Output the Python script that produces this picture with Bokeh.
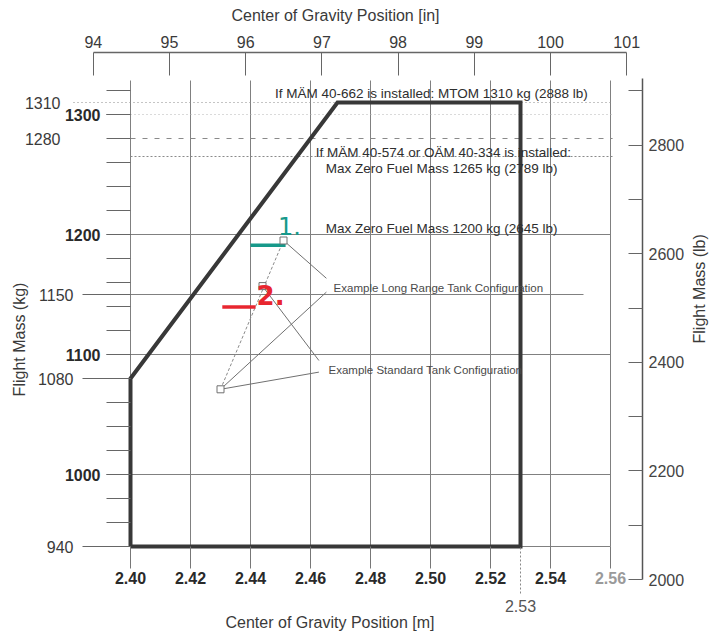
import math
from bokeh.plotting import figure
from bokeh.models import LinearAxis, Range1d, FixedTicker, PrintfTickFormatter
from bokeh.core.properties import value
from bokeh.embed import file_html
from bokeh.resources import INLINE

# ---------------- values ----------------
cg_m_ticks = [2.40, 2.42, 2.44, 2.46, 2.48, 2.50, 2.52, 2.54]
cg_m_ticks_gray = [2.56]
cg_aft_tick = [2.53]
cg_in_ticks = [94, 95, 96, 97, 98, 99, 100, 101]

kg_bold_ticks = [1000, 1100, 1200, 1300]
kg_plain_ticks = [940, 1080, 1150]
kg_plain_ticks_far = [1280, 1310]
kg_minor_ticks = [940, 960, 980, 1000, 1020, 1040, 1060, 1080, 1100, 1120,
                  1140, 1160, 1180, 1200, 1220, 1240, 1260, 1280, 1300, 1320]
lb_ticks = [2000, 2200, 2400, 2600, 2800]
lb_minor_ticks = [2100, 2300, 2500, 2700, 2900]

envelope_cg = [2.40, 2.40, 2.469, 2.53, 2.53, 2.40]
envelope_kg = [940, 1080, 1310, 1310, 940, 940]

grid_cg = [2.40, 2.42, 2.44, 2.46, 2.48, 2.50, 2.52, 2.54, 2.56]
grid_kg = [940, 1000, 1100, 1150, 1200]
grid_kg_end = [2.56, 2.56, 2.56, 2.551, 2.56]

limit_kg = [1310, 1300, 1280, 1265]
limit_cg_start = [2.381, 2.392, 2.40, 2.40]

example_cg = [2.451, 2.444, 2.430]
example_kg = [1195, 1157, 1071]

leader_cg0 = [2.451, 2.430, 2.444, 2.430]
leader_kg0 = [1195, 1071, 1157, 1071]
leader_cg1 = [2.4653, 2.4653, 2.4628, 2.4628]
leader_kg1 = [1163.5, 1152, 1095, 1085.3]

teal_cg = [2.440, 2.4517]
teal_kg = [1191, 1191]
red_cg = [2.4306, 2.4417]
red_kg = [1139.5, 1139.5]

# ---------------- geometry (pixels of the page) ----------------
W, H, OFF = 710, 633, 0


def m_at(px):
    return 2.40 + (px - 130) / 3000.0


def kg_at(py):
    return 940 + (546 - py) / 1.2


def lb_at(py):
    return 2000 + (579 - py) / 0.543


FONT = "Liberation Sans"

p = figure(width=W, height=H, output_backend="svg", toolbar_location=None,
           title=None, x_axis_location=None, y_axis_location=None,
           x_range=Range1d(m_at(OFF), m_at(OFF + W)),
           y_range=Range1d(kg_at(OFF + H), kg_at(OFF)),
           min_border_left=0, min_border_right=0, min_border_top=0,
           min_border_bottom=0)
p.extra_x_ranges = {"inch": Range1d(m_at(OFF) / 0.0254, m_at(OFF + W) / 0.0254)}
p.extra_y_ranges = {"lb": Range1d(lb_at(OFF + H), lb_at(OFF))}
p.outline_line_color = None
p.grid.visible = False
p.background_fill_color = "white"
p.border_fill_color = "white"


def axis(**kw):
    base = dict(axis_line_color=None, major_tick_in=0, major_tick_out=0,
                minor_tick_in=0, minor_tick_out=0, major_label_standoff=0,
                major_tick_line_color="#666", minor_tick_line_color="#666",
                major_label_text_font=FONT, major_label_text_font_size="16px",
                major_label_text_color="#3a3a3a",
                axis_label_text_font=FONT, axis_label_text_font_size="16px",
                axis_label_text_color="#3a3a3a", axis_label_text_font_style="normal")
    base.update(kw)
    return LinearAxis(**base)


# ---- left (kg) ----
p.add_layout(axis(fixed_location=2.40,
                  ticker=FixedTicker(ticks=kg_bold_ticks, minor_ticks=kg_minor_ticks),
                  major_tick_out=24, minor_tick_out=24, major_label_standoff=6,
                  major_label_text_font_style="bold", major_label_text_color="#2a2a2a"),
             "left")
p.add_layout(axis(fixed_location=2.40, ticker=FixedTicker(ticks=kg_plain_ticks),
                  major_tick_out=48, major_label_standoff=9), "left")
p.add_layout(axis(fixed_location=2.40, ticker=FixedTicker(ticks=kg_plain_ticks_far),
                  major_tick_line_color=None, major_label_standoff=70), "left")
p.add_layout(axis(fixed_location=2.40, ticker=FixedTicker(ticks=[]), bounds=(940, 1285),
                  axis_label="Flight Mass (kg)", axis_label_standoff=103), "left")

# ---- top (inch) ----
y_top = kg_at(52)
p.add_layout(axis(fixed_location=y_top, x_range_name="inch",
                  ticker=FixedTicker(ticks=cg_in_ticks), bounds=(94, 101),
                  axis_line_color="#666", axis_line_width=1.3,
                  major_tick_in=23, major_label_standoff=5), "above")
p.add_layout(axis(fixed_location=y_top, x_range_name="inch",
                  ticker=FixedTicker(ticks=[]), bounds=(94, 100.36),
                  axis_label="Center of Gravity Position [in]", axis_label_standoff=29),
             "above")

# ---- right (lb) ----
x_right = m_at(642)
p.add_layout(axis(fixed_location=x_right, y_range_name="lb",
                  ticker=FixedTicker(ticks=lb_ticks, minor_ticks=lb_minor_ticks),
                  bounds=(2000, lb_at(78)), axis_line_color="#555", axis_line_width=1.5,
                  major_tick_in=14, minor_tick_in=14, major_label_standoff=6,
                  major_label_text_color="#444"), "right")

if "axis_label_orientation" in LinearAxis.properties():
    p.add_layout(axis(fixed_location=x_right, y_range_name="lb",
                      ticker=FixedTicker(ticks=[]), bounds=(2000, 2869),
                      axis_label="Flight Mass (lb)", axis_label_standoff=57,
                      axis_label_orientation=math.pi / 2), "right")
else:
    p.text([m_at(699)], [kg_at(343)], text=["Flight Mass (lb)"], angle=math.pi / 2,
           text_font=value(FONT), text_font_size=value("16px"), text_color="#3a3a3a",
           text_align="center", text_baseline="middle")

# ---- bottom (m) ----
fmt = PrintfTickFormatter(format="%.2f")
p.add_layout(axis(fixed_location=940, ticker=FixedTicker(ticks=cg_m_ticks), formatter=fmt,
                  bounds=(2.40, 2.54), major_tick_out=22, major_tick_line_color="#777",
                  major_label_standoff=3, major_label_text_font_style="bold",
                  major_label_text_color="#2a2a2a"), "below")
p.add_layout(axis(fixed_location=940, ticker=FixedTicker(ticks=cg_m_ticks_gray),
                  formatter=PrintfTickFormatter(format="%.2f"),
                  major_tick_out=22, major_tick_line_color="#777",
                  major_label_standoff=3, major_label_text_font_style="bold",
                  major_label_text_color="#9a9a9a"), "below")
p.add_layout(axis(fixed_location=940, ticker=FixedTicker(ticks=cg_aft_tick),
                  formatter=PrintfTickFormatter(format="%.2f"),
                  major_tick_out=47, major_tick_line_color="#888",
                  major_tick_line_dash="2 2", major_label_standoff=6,
                  major_label_text_color="#555"), "below")
p.add_layout(axis(fixed_location=940, ticker=FixedTicker(ticks=[]), bounds=(2.393, 2.54),
                  axis_label="Center of Gravity Position [m]", axis_label_standoff=67),
             "below")

# ---------------- grid and limit lines ----------------
p.segment(x0=grid_cg, y0=[940] * len(grid_cg), x1=grid_cg, y1=[kg_at(80)] * len(grid_cg),
          line_color="#808080", line_width=1)
p.segment(x0=[2.40] * len(grid_kg), y0=grid_kg, x1=grid_kg_end, y1=grid_kg,
          line_color="#808080", line_width=1)

limit_styles = [("#8a8a8a", "1 3"), ("#b5b5b5", "1 3"), ("#8a8a8a", "5 7"), ("#8a8a8a", "2 2")]
for kg, x0, (col, dash) in zip(limit_kg, limit_cg_start, limit_styles):
    p.segment(x0=[x0], y0=[kg], x1=[2.5607], y1=[kg], line_color=col,
              line_width=1.2, line_dash=dash)

# ---------------- envelope ----------------
p.line(envelope_cg, envelope_kg, line_color="#383838", line_width=4, line_join="miter")

# ---------------- example points and leaders ----------------
p.segment(x0=leader_cg0, y0=leader_kg0, x1=leader_cg1, y1=leader_kg1,
          line_color="#707070", line_width=1)
p.line([example_cg[2], example_cg[0]], [example_kg[2], example_kg[0]],
       line_color="#8a8a8a", line_width=1, line_dash="3 2")
p.line(teal_cg, teal_kg, line_color="#17998a", line_width=3.5)
p.line(red_cg, red_kg, line_color="#e8262f", line_width=3.5)
p.scatter(example_cg, example_kg, marker="square", size=7, fill_color="white",
          line_color="#707070", line_width=1)

# ---------------- texts ----------------
note_x = [2.5003, 2.5043, 2.5037, 2.5037]
note_kg = [1317.5, 1268.3, 1255, 1205]
note_text = ["If MÄM 40-662 is installed: MTOM 1310 kg (2888 lb)",
             "If MÄM 40-574 or OÄM 40-334 is installed:",
             "Max Zero Fuel Mass 1265 kg (2789 lb)",
             "Max Zero Fuel Mass 1200 kg (2645 lb)"]
p.text(note_x, note_kg, text=note_text, text_font=value(FONT),
       text_font_size=value("13.5px"), text_color="#2e2e2e",
       text_align="center", text_baseline="middle")

p.text([2.4677, 2.466], [1155.8, 1086.7],
       text=["Example Long Range Tank Configuration", "Example Standard Tank Configuration"],
       text_font=value(FONT), text_font_size=value("11.5px"), text_color="#4a4a4a",
       text_align="left", text_baseline="middle")

p.text([2.453], [1207.5], text=["1."], text_font=value("DejaVu Sans"),
       text_font_size=value("24px"), text_color="#17998a",
       text_align="center", text_baseline="middle")
p.text([2.4467], [1150], text=["2."], text_font=value("DejaVu Sans"),
       text_font_size=value("26px"), text_font_style="bold", text_color="#e8262f",
       text_align="center", text_baseline="middle")

open("out.html", "w").write(file_html(p, INLINE))
